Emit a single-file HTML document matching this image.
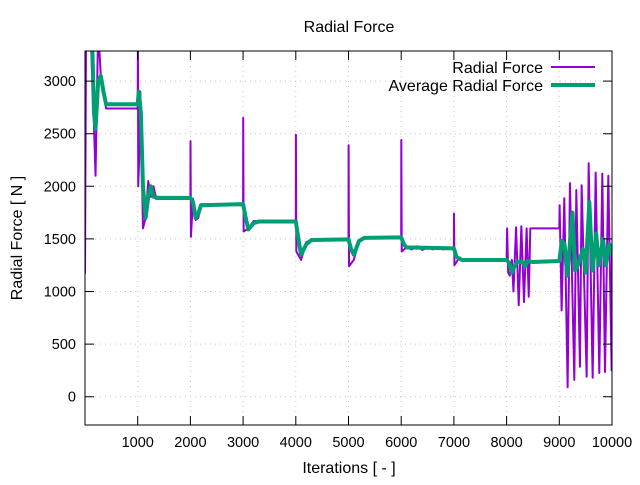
<!DOCTYPE html>
<html><head><meta charset="utf-8"><style>
body{margin:0;background:#fff}
svg text{font-family:"Liberation Sans",sans-serif;font-size:14.5px;fill:#000}
svg text.b{font-size:16px}
</style></head><body>
<svg width="640" height="480" xmlns="http://www.w3.org/2000/svg">
<rect width="640" height="480" fill="#fff"/>
<g stroke="#c8c8c8" stroke-width="1" stroke-dasharray="1,4">
<line x1="85" x2="612" y1="396.7" y2="396.7"/><line x1="85" x2="612" y1="344.1" y2="344.1"/><line x1="85" x2="612" y1="291.5" y2="291.5"/><line x1="85" x2="612" y1="238.9" y2="238.9"/><line x1="85" x2="612" y1="186.3" y2="186.3"/><line x1="85" x2="612" y1="133.7" y2="133.7"/><line x1="85" x2="612" y1="81.1" y2="81.1"/>
<line y1="51" y2="425" x1="137.7" x2="137.7"/><line y1="51" y2="425" x1="190.4" x2="190.4"/><line y1="51" y2="425" x1="243.1" x2="243.1"/><line y1="51" y2="425" x1="295.8" x2="295.8"/><line y1="51" y2="425" x1="348.5" x2="348.5"/><line y1="51" y2="425" x1="401.2" x2="401.2"/><line y1="51" y2="425" x1="453.9" x2="453.9"/><line y1="51" y2="425" x1="506.6" x2="506.6"/><line y1="51" y2="425" x1="559.3" x2="559.3"/>
</g>
<svg x="85" y="51" width="527" height="374" overflow="hidden">
<g transform="translate(0,345.7) scale(0.0527,-0.1052)" fill="none" stroke-linejoin="round">
<polyline vector-effect="non-scaling-stroke" stroke="#9400d3" stroke-width="2" points="0,1170 20,3500 60,3400 100,3500 150,2900 200,2100 250,3500 300,3050 350,2900 400,2740 1000,2740 1005,3500 1010,2000 1030,2300 1050,2900 1100,1600 1150,1700 1200,2050 1250,1900 1300,2000 1350,1880 2000,1880 2002,2430 2010,1520 2050,1880 2100,1680 2150,1700 2200,1830 3000,1820 3002,2650 3010,1570 3100,1600 3200,1670 4000,1660 4002,2490 4010,1380 4100,1300 4200,1470 4300,1490 5000,1490 5002,2390 5010,1240 5100,1300 5200,1480 5300,1510 6000,1510 6002,2440 6010,1380 6100,1420 6200,1400 6300,1430 6400,1395 6500,1420 6600,1400 6700,1425 6800,1400 6900,1410 7000,1400 7002,1740 7010,1250 7100,1320 7200,1300 8000,1290 8010,1600 8030,1180 8060,1150 8100,1300 8130,1000 8180,1610 8230,870 8280,1620 8330,900 8380,1600 8420,950 8450,1600 8500,1600 9000,1600 9006,1820 9044,820 9095,1886 9158,90 9202,2030 9285,160 9323,1965 9392,285 9424,2010 9519,190 9557,2220 9633,180 9690,2130 9759,225 9816,2120 9867,235 9930,2100 9993,250 10000,1350"/>
<polyline vector-effect="non-scaling-stroke" stroke="#009e73" stroke-width="4" points="60,3500 130,3500 170,2700 200,2550 250,3000 300,3050 350,2900 400,2780 1000,2780 1020,2900 1060,2700 1100,2000 1150,1700 1200,1900 1250,2000 1300,1900 1400,1890 2000,1890 2050,1850 2100,1700 2150,1740 2200,1820 3000,1830 3050,1700 3100,1590 3200,1650 3300,1665 4000,1665 4050,1500 4100,1350 4200,1450 4300,1490 5000,1495 5050,1400 5100,1350 5200,1480 5300,1510 6000,1515 6050,1450 6100,1420 7000,1410 7050,1330 7150,1300 8000,1300 8050,1270 8100,1180 8150,1240 8200,1280 8300,1280 8350,1240 8400,1290 8500,1280 9000,1290 9050,1480 9100,1450 9150,1150 9250,1750 9300,1200 9350,1250 9450,1400 9500,1180 9570,1850 9630,1200 9700,1550 9750,1250 9830,1500 9880,1250 9950,1450 10000,1350"/>
</g></svg>
<rect x="85" y="51" width="527" height="374" fill="none" stroke="#000" stroke-width="1"/>
<g stroke="#000" stroke-width="1">
<path d="M85 396.7h9M85 344.1h9M85 291.5h9M85 238.9h9M85 186.3h9M85 133.7h9M85 81.1h9M612 396.7h-9M612 344.1h-9M612 291.5h-9M612 238.9h-9M612 186.3h-9M612 133.7h-9M612 81.1h-9"/>
<path d="M137.7 425v-9M190.4 425v-9M243.1 425v-9M295.8 425v-9M348.5 425v-9M401.2 425v-9M453.9 425v-9M506.6 425v-9M559.3 425v-9M137.7 51v9M190.4 51v9M243.1 51v9M295.8 51v9M348.5 51v9M401.2 51v9M453.9 51v9M506.6 51v9M559.3 51v9"/>
</g>
<g text-anchor="end">
<text x="76" y="401.7">0</text><text x="76" y="349.1">500</text><text x="76" y="296.5">1000</text><text x="76" y="243.9">1500</text><text x="76" y="191.3">2000</text><text x="76" y="138.7">2500</text><text x="76" y="86.1">3000</text>
</g>
<g text-anchor="middle">
<text x="137.7" y="447">1000</text><text x="190.4" y="447">2000</text><text x="243.1" y="447">3000</text><text x="295.8" y="447">4000</text><text x="348.5" y="447">5000</text><text x="401.2" y="447">6000</text><text x="453.9" y="447">7000</text><text x="506.6" y="447">8000</text><text x="559.3" y="447">9000</text><text x="612" y="447">10000</text>
<text class="b" x="349" y="32">Radial Force</text>
<text class="b" x="349" y="473">Iterations [ - ]</text>
<text class="b" transform="translate(22,238) rotate(-90)">Radial Force [ N ]</text>
</g>
<g text-anchor="end">
<text class="b" x="543" y="73">Radial Force</text>
<text class="b" x="543" y="91">Average Radial Force</text>
</g>
<line x1="551" x2="595" y1="67" y2="67" stroke="#9400d3" stroke-width="2"/>
<line x1="551" x2="595" y1="85" y2="85" stroke="#009e73" stroke-width="4"/>
</svg>
</body></html>
